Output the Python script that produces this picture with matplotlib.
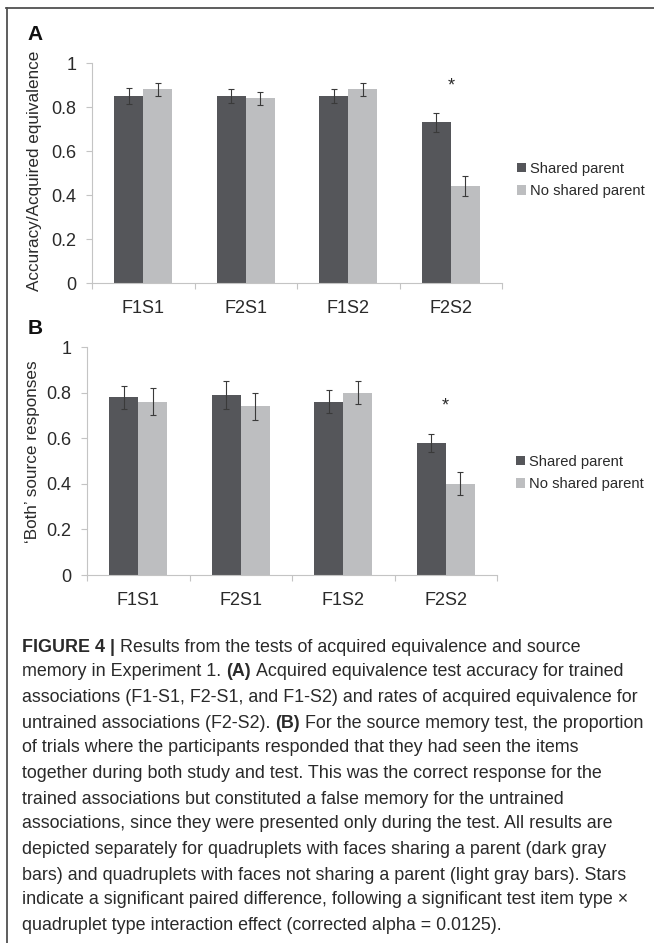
import numpy as np
import matplotlib
matplotlib.use("Agg")
import matplotlib.pyplot as plt
from matplotlib import font_manager
from matplotlib.lines import Line2D
from matplotlib.ticker import FixedLocator, NullFormatter

# ---------------- data ----------------
categories = ["F1S1", "F2S1", "F1S2", "F2S2"]
series_names = ["Shared parent", "No shared parent"]

acc_shared = [0.85, 0.85, 0.85, 0.73]
acc_shared_err = [0.035, 0.03, 0.03, 0.045]
acc_noshared = [0.88, 0.84, 0.88, 0.44]
acc_noshared_err = [0.03, 0.03, 0.03, 0.045]

src_shared = [0.78, 0.79, 0.76, 0.58]
src_shared_err = [0.05, 0.06, 0.05, 0.04]
src_noshared = [0.76, 0.74, 0.80, 0.40]
src_noshared_err = [0.06, 0.06, 0.05, 0.05]

y_ticks = [0, 0.2, 0.4, 0.6, 0.8, 1]
y_tick_labels = ["0", "0.2", "0.4", "0.6", "0.8", "1"]
star_category = 3

ylabel_a = "Accuracy/Acquired equivalence"
ylabel_b = "\u2018Both\u2019 source responses"

caption_lines = [
    [("FIGURE 4 |", True), ("Results from the tests of acquired equivalence and source", False)],
    [("memory in Experiment 1.", False), ("(A)", True), ("Acquired equivalence test accuracy for trained", False)],
    [("associations (F1-S1, F2-S1, and F1-S2) and rates of acquired equivalence for", False)],
    [("untrained associations (F2-S2).", False), ("(B)", True), ("For the source memory test, the proportion", False)],
    [("of trials where the participants responded that they had seen the items", False)],
    [("together during both study and test. This was the correct response for the", False)],
    [("trained associations but constituted a false memory for the untrained", False)],
    [("associations, since they were presented only during the test. All results are", False)],
    [("depicted separately for quadruplets with faces sharing a parent (dark gray", False)],
    [("bars) and quadruplets with faces not sharing a parent (light gray bars). Stars", False)],
    [("indicate a significant paired difference, following a significant test item type \u00d7", False)],
    [("quadruplet type interaction effect (corrected alpha = 0.0125).", False)],
]

# ---------------- style ----------------
W, H = 654, 943
DARK = "#55565a"
LIGHT = "#bdbec0"
AXC = "#c4c4c4"
TXT = "#2a2a2a"

names = {f.name for f in font_manager.fontManager.ttflist}
chart_fam = ["Liberation Sans", "DejaVu Sans"]
cap_fam = ["Liberation Sans Narrow", "Liberation Sans", "DejaVu Sans"] if "Liberation Sans Narrow" in names else ["Liberation Sans", "DejaVu Sans"]

plt.rcParams["font.family"] = chart_fam

fig = plt.figure(figsize=(W / 100, H / 100), dpi=100)
fig.patch.set_facecolor("white")


def fx(px):
    return px / W


def fy(py):
    return 1 - py / H


def make_panel(rect, shared, shared_err, noshared, noshared_err, ylabel, ylab_pos,
               letter, letter_pos, legend_pos):
    ax = fig.add_axes(rect)
    x = np.arange(len(categories))
    bw = 0.283
    b1 = ax.bar(x - bw / 2, shared, bw, color=DARK, label=series_names[0], zorder=2)
    b2 = ax.bar(x + bw / 2, noshared, bw, color=LIGHT, label=series_names[1], zorder=2)
    ax.errorbar(x - bw / 2, shared, yerr=shared_err, fmt="none", ecolor="#3a3a3a",
                elinewidth=0.8, capsize=2.2, capthick=0.8, zorder=3)
    ax.errorbar(x + bw / 2, noshared, yerr=noshared_err, fmt="none", ecolor="#3a3a3a",
                elinewidth=0.8, capsize=2.2, capthick=0.8, zorder=3)
    ax.set_xlim(-0.5, len(categories) - 0.5)
    ax.set_ylim(0, 1)
    ax.set_yticks(y_ticks)
    ax.set_yticklabels(y_tick_labels)
    ax.set_xticks(x)
    ax.set_xticklabels(categories)
    ax.xaxis.set_minor_locator(FixedLocator(np.arange(-0.5, len(categories), 1.0)))
    ax.xaxis.set_minor_formatter(NullFormatter())
    ax.tick_params(axis="x", which="major", length=0, pad=12, labelsize=13, labelcolor=TXT)
    ax.tick_params(axis="x", which="minor", length=4, width=0.8, color=AXC, direction="out")
    ax.tick_params(axis="y", length=4, width=0.8, color=AXC, pad=7, labelsize=13, labelcolor=TXT)
    for s in ["top", "right"]:
        ax.spines[s].set_visible(False)
    for s in ["left", "bottom"]:
        ax.spines[s].set_color(AXC)
        ax.spines[s].set_linewidth(0.8)
    # star above significant pair
    top = max(shared[star_category] + shared_err[star_category],
              noshared[star_category] + noshared_err[star_category])
    ax.text(star_category, top + 0.12, "*", ha="center", va="center", fontsize=13, color=TXT)
    fig.text(fx(ylab_pos[0]), fy(ylab_pos[1]), ylabel, rotation=90, ha="center", va="center",
             fontsize=12.3, color=TXT)
    fig.text(fx(letter_pos[0]), fy(letter_pos[1]), letter, fontsize=15, fontweight="bold",
             ha="left", va="center", color="#111111")
    leg = ax.legend(handles=[b1, b2], loc="center left",
                    bbox_to_anchor=(fx(legend_pos[0]), fy(legend_pos[1])),
                    bbox_transform=fig.transFigure, frameon=False, fontsize=10.6,
                    handlelength=0.6, handleheight=0.6, handletextpad=0.3,
                    labelspacing=0.55, borderpad=0, borderaxespad=0)
    for t in leg.get_texts():
        t.set_color(TXT)
    return ax


make_panel([fx(92), fy(283), fx(502) - fx(92), fy(63) - fy(283)],
           acc_shared, acc_shared_err, acc_noshared, acc_noshared_err,
           ylabel_a, (35, 171), "A", (27, 34), (517, 180))
make_panel([fx(87), fy(575), fx(497) - fx(87), fy(347) - fy(575)],
           src_shared, src_shared_err, src_noshared, src_noshared_err,
           ylabel_b, (33, 452), "B", (28, 329), (516, 473))

# ---------------- border ----------------
fig.add_artist(Line2D([fx(6), fx(654)], [fy(8), fy(8)], color="#505050", lw=1.3))
fig.add_artist(Line2D([fx(7), fx(7)], [fy(8), fy(943)], color="#505050", lw=1.3))

# ---------------- caption ----------------
renderer = fig.canvas.get_renderer()


def seg_width(text, bold, size):
    t = fig.text(0, 0, text, fontsize=size, fontweight="bold" if bold else "normal", family=cap_fam)
    w = t.get_window_extent(renderer=renderer).width
    t.remove()
    return w


def space_width(size):
    return seg_width("a a", False, size) - seg_width("aa", False, size)


def line_width(segs, size):
    return sum(seg_width(s, b, size) for s, b in segs) + space_width(size) * (len(segs) - 1)


base = 10.0
target = 646 - 22
size = base * target / line_width(caption_lines[3], base)

line_y = [647, 672, 698, 723, 748, 774, 799, 824, 849, 875, 900, 925]
sp = space_width(size)
for segs, yy in zip(caption_lines, line_y):
    xx = 22.0
    for text, bold in segs:
        t = fig.text(fx(xx), fy(yy), text, fontsize=size, fontweight="bold" if bold else "normal",
                     family=cap_fam, ha="left", va="center", color=TXT)
        xx += t.get_window_extent(renderer=renderer).width + sp

fig.savefig("out.png", dpi=100, facecolor="white")
